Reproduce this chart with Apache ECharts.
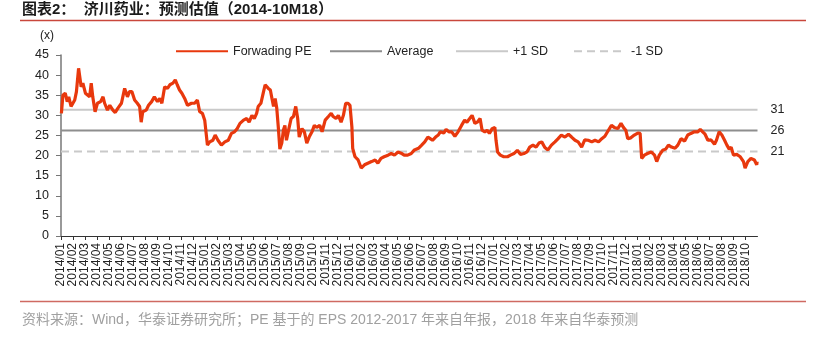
<!DOCTYPE html>
<html><head><meta charset="utf-8">
<script src="https://cdn.jsdelivr.net/npm/echarts@6/dist/echarts.min.js"></script>
<style>html,body{margin:0;padding:0;background:#fff}#c{width:817px;height:357px}</style>
</head><body><div id="c"></div>
<script>
// ---- data ----
const monthLabels = [
"2014/01","2014/02","2014/03","2014/04","2014/05","2014/06","2014/07","2014/08","2014/09","2014/10","2014/11","2014/12",
"2015/01","2015/02","2015/03","2015/04","2015/05","2015/06","2015/07","2015/08","2015/09","2015/10","2015/11","2015/12",
"2016/01","2016/02","2016/03","2016/04","2016/05","2016/06","2016/07","2016/08","2016/09","2016/10","2016/11","2016/12",
"2017/01","2017/02","2017/03","2017/04","2017/05","2017/06","2017/07","2017/08","2017/09","2017/10","2017/11","2017/12",
"2018/01","2018/02","2018/03","2018/04","2018/05","2018/06","2018/07","2018/08","2018/09","2018/10"];
const yTicks = [0,5,10,15,20,25,30,35,40,45];
const dates = [
"2014-01-02","2014-01-06","2014-01-12","2014-01-17","2014-01-21","2014-01-27","2014-02-05","2014-02-09","2014-02-14","2014-02-17","2014-02-20","2014-02-24",
"2014-03-02","2014-03-07","2014-03-13","2014-03-17","2014-03-21","2014-03-27","2014-04-02","2014-04-10","2014-04-16","2014-04-20","2014-04-27",
"2014-05-03","2014-05-11","2014-05-17","2014-05-24","2014-06-02","2014-06-10","2014-06-17","2014-06-22","2014-06-28",
"2014-07-05","2014-07-12","2014-07-18","2014-07-22","2014-07-26","2014-08-04","2014-08-10","2014-08-18","2014-08-25",
"2014-09-02","2014-09-08","2014-09-13","2014-09-20","2014-09-27","2014-10-03","2014-10-11","2014-10-17","2014-10-22","2014-10-28",
"2014-11-03","2014-11-10","2014-11-17","2014-11-27","2014-12-05","2014-12-12","2014-12-18","2014-12-25","2014-12-31",
"2015-01-07","2015-01-13","2015-01-21","2015-01-27","2015-02-03","2015-02-11","2015-02-19","2015-02-27","2015-03-07","2015-03-15","2015-03-22",
"2015-03-29","2015-04-07","2015-04-15","2015-04-21","2015-04-28","2015-05-04","2015-05-10","2015-05-14","2015-05-21","2015-05-27",
"2015-06-01","2015-06-05","2015-06-09","2015-06-14","2015-06-18","2015-06-22","2015-06-26","2015-06-30",
"2015-07-04","2015-07-08","2015-07-13","2015-07-17","2015-07-21","2015-07-25","2015-08-01","2015-08-06","2015-08-12","2015-08-18","2015-08-23","2015-08-27",
"2015-09-03","2015-09-09","2015-09-15","2015-09-21","2015-09-28","2015-10-04","2015-10-10","2015-10-18","2015-10-24",
"2015-11-01","2015-11-09","2015-11-16","2015-11-21","2015-11-28","2015-12-04","2015-12-11","2015-12-17","2015-12-23","2015-12-29",
"2016-01-03","2016-01-08","2016-01-10","2016-01-16","2016-01-24","2016-02-01","2016-02-09","2016-02-17","2016-02-26",
"2016-03-06","2016-03-13","2016-03-21","2016-03-29","2016-04-08","2016-04-16","2016-04-24","2016-05-03","2016-05-11","2016-05-19","2016-05-28",
"2016-06-06","2016-06-14","2016-06-24","2016-07-02","2016-07-10","2016-07-18","2016-07-24","2016-07-30","2016-08-07","2016-08-14","2016-08-19","2016-08-28",
"2016-09-03","2016-09-10","2016-09-17","2016-09-25","2016-10-03","2016-10-12","2016-10-20","2016-10-26","2016-11-02","2016-11-08","2016-11-15","2016-11-21","2016-11-28",
"2016-12-03","2016-12-10","2016-12-16","2016-12-22","2016-12-29","2017-01-05","2017-01-08","2017-01-12","2017-01-19","2017-01-28",
"2017-02-06","2017-02-13","2017-02-21","2017-03-01","2017-03-09","2017-03-18","2017-03-26","2017-04-02","2017-04-10","2017-04-18","2017-04-25",
"2017-05-02","2017-05-10","2017-05-18","2017-05-27","2017-06-05","2017-06-13","2017-06-21","2017-06-30","2017-07-09","2017-07-17","2017-07-26",
"2017-08-03","2017-08-12","2017-08-20","2017-08-29","2017-09-07","2017-09-15","2017-09-24","2017-10-02","2017-10-10","2017-10-18","2017-10-27",
"2017-11-03","2017-11-12","2017-11-20","2017-11-26","2017-12-02","2017-12-07","2017-12-15","2017-12-24",
"2018-01-02","2018-01-08","2018-01-12","2018-01-19","2018-01-27","2018-02-05","2018-02-13","2018-02-18","2018-02-24",
"2018-03-04","2018-03-12","2018-03-19","2018-03-27","2018-04-05","2018-04-12","2018-04-20","2018-04-29",
"2018-05-07","2018-05-15","2018-05-24","2018-06-02","2018-06-08","2018-06-14","2018-06-20","2018-06-27",
"2018-07-05","2018-07-14","2018-07-19","2018-07-26","2018-08-02","2018-08-09","2018-08-15","2018-08-21","2018-08-26",
"2018-09-01","2018-09-09","2018-09-18","2018-09-26","2018-09-30","2018-10-07","2018-10-15","2018-10-24","2018-10-30","2018-10-31"];
const forwardPE = [
30.5,35.0,35.5,33.4,34.6,32.2,33.8,35.9,41.7,41.3,37.1,38.0,
35.5,35.9,34.6,38.0,34.6,30.9,33.0,33.4,34.6,33.0,31.3,
32.5,31.3,30.7,31.8,33.0,36.7,34.6,35.9,35.9,
33.8,33.0,32.2,28.3,30.9,31.3,32.5,33.4,34.6,
33.4,34.2,33.0,37.1,36.7,37.6,38.0,38.8,37.6,36.3,
35.5,34.2,32.5,33.0,33.0,33.8,30.9,30.5,28.8,
22.6,23.4,23.8,25.1,23.8,22.6,23.4,23.8,25.5,25.9,26.7,
28.0,28.8,29.2,28.3,30.0,29.2,30.5,32.2,33.0,35.5,
37.6,38.0,36.7,36.3,34.2,32.2,34.2,31.8,
27.0,21.6,23.1,26.3,27.5,23.8,27.0,29.2,29.7,32.2,29.2,24.6,
26.7,25.9,23.1,24.6,25.9,27.5,27.0,27.5,25.9,
28.8,29.7,30.5,29.7,29.2,30.0,28.3,30.0,33.0,33.0,
32.5,27.0,21.8,19.7,18.9,16.9,17.7,18.1,18.5,
18.9,18.1,19.3,19.7,20.1,20.5,20.1,20.9,20.6,20.1,20.1,
20.5,21.4,21.8,22.6,23.4,24.6,24.2,23.8,24.6,25.1,25.9,25.6,
26.5,25.9,25.9,24.8,25.9,27.5,28.8,28.3,29.2,30.0,28.0,28.3,29.2,
26.3,25.9,26.3,25.5,26.7,27.0,23.8,20.9,20.1,19.7,
19.7,20.1,20.5,21.3,20.3,20.5,20.9,22.1,22.6,22.1,23.1,
23.4,22.0,21.4,22.6,23.4,24.2,25.1,24.6,25.3,24.6,23.8,
23.4,22.1,23.9,23.8,23.4,23.8,23.4,24.2,24.8,26.1,27.5,
27.0,26.7,28.0,27.0,26.3,24.2,24.4,25.1,
25.6,25.5,19.3,20.1,20.5,20.9,20.1,18.5,20.1,
21.3,21.6,22.6,22.1,21.8,22.6,24.2,23.6,
25.1,25.5,25.9,25.9,26.5,25.9,25.3,23.8,
23.9,22.8,23.8,25.9,25.1,23.8,22.6,21.6,22.1,
20.1,20.3,19.7,18.5,16.9,18.5,19.3,18.9,17.7,18.5];
const averagePE = 26.2;
const plusOneSD = 31.4;
const minusOneSD = 21.0;
const seriesNames = ["Forwading PE","Average","+1 SD","-1 SD"];

// ---- helpers ----
function monthPos(s){
  const [y,m,d] = s.split('-').map(Number);
  const dim = new Date(y, m, 0).getDate();
  return (y-2014)*12 + (m-1) + (d-1)/dim;
}
const nMonths = monthLabels.length;
const peData = dates.map((d,i)=>[monthPos(d), forwardPE[i]]);
const hLine = v => [[0, v],[nMonths, v]];
const FONT = '"Liberation Sans", Arial, "Noto Sans CJK SC", sans-serif';

const chart = echarts.init(document.getElementById('c'), null, {renderer:'canvas'});
function refSeries(name, v, color, type){
  return {
    name, type:'line', data:hLine(v), symbol:'none', silent:true, z:2,
    lineStyle:{color, width:2, type},
    itemStyle:{color},
    endLabel:{show:true, formatter:()=>String(Math.round(v)), distance:13,
      fontSize:12.5, color:'#222', fontFamily:FONT},
    animation:false
  };
}
function legendAt(name, left){
  return {data:[name], left, top:40, itemWidth:52, itemHeight:14, itemGap:0,
    itemStyle:{opacity:0, borderWidth:0},
    textStyle:{fontSize:12.5, color:'#222', fontFamily:FONT}, selectedMode:false};
}
chart.setOption({
  animation:false,
  backgroundColor:'#fff',
  grid:{left:61, right:59.5, top:55, bottom:121, containLabel:false},
  legend:[legendAt(seriesNames[0],170), legendAt(seriesNames[1],324), legendAt(seriesNames[2],450), legendAt(seriesNames[3],568)],
  xAxis:{
    type:'value', min:0, max:nMonths, interval:1,
    axisLine:{lineStyle:{color:'#333', width:1}},
    axisTick:{show:true, length:4, lineStyle:{color:'#333'}},
    splitLine:{show:false},
    axisLabel:{rotate:90, fontSize:12, color:'#222', fontFamily:FONT, margin:7,
      showMaxLabel:false,
      formatter:v=>monthLabels[Math.round(v)]||''}
  },
  yAxis:{
    type:'value', min:yTicks[0], max:yTicks[yTicks.length-1], interval:5,
    axisLine:{show:true, lineStyle:{color:'#777', width:1.5}},
    axisTick:{show:true, length:5, lineStyle:{color:'#777'}},
    splitLine:{show:false},
    axisLabel:{fontSize:12.5, color:'#222', fontFamily:FONT, margin:12}
  },
  series:[
    {name:seriesNames[0], type:'line', data:peData, symbol:'none', z:5,
      lineStyle:{color:'#e8380d', width:3.2}, itemStyle:{color:'#e8380d'}},
    refSeries(seriesNames[1], averagePE, '#8e8e8e', 'solid'),
    refSeries(seriesNames[2], plusOneSD, '#c9c9c9', 'solid'),
    refSeries(seriesNames[3], minusOneSD, '#c9c9c9', [8,5])
  ],
  graphic:[
    {type:'text', left:22, top:2, style:{text:'图表2：  济川药业：预测估值（2014-10M18）',
      font:'bold 15px "Liberation Sans", Arial, "Noto Sans CJK SC", sans-serif', fill:'#1a1a1a'}},
    {type:'line', shape:{x1:20, y1:20.5, x2:806, y2:20.5}, style:{stroke:'#c9473c', lineWidth:1.5}},
    {type:'text', left:40, top:30, style:{text:'(x)', font:'12px "Liberation Sans", Arial, sans-serif', fill:'#222'}},
    {type:'line', shape:{x1:20, y1:301.5, x2:806, y2:301.5}, style:{stroke:'#cf6a62', lineWidth:1.5}},
    {type:'text', left:22, top:313, style:{text:'资料来源：Wind，华泰证券研究所；PE 基于的 EPS 2012-2017 年来自年报，2018 年来自华泰预测',
      font:'14px "Liberation Sans", Arial, "Noto Sans CJK SC", sans-serif', fill:'#a0a0a0'}}
  ]
});
</script></body></html>
